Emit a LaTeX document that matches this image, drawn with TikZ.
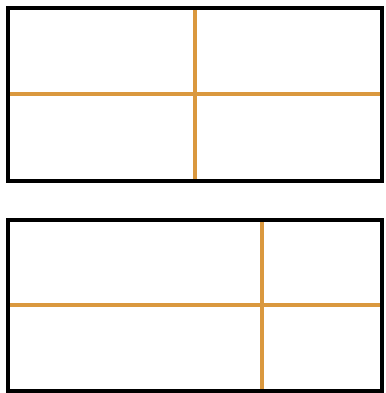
\documentclass[tikz,border=0pt]{standalone}
\definecolor{ochre}{RGB}{218,152,62}
\begin{document}
\begin{tikzpicture}[x=1pt,y=-1pt,
  frame/.style={draw=black,line width=4pt},
  divider/.style={draw=ochre,line width=4pt}]
\useasboundingbox (0,0) rectangle (385,393);
% top panel
\draw[divider] (8,94) -- (382,94);
\draw[divider] (195,8) -- (195,181);
\draw[frame] (8,8) rectangle (382,181);
% bottom panel
\draw[divider] (8,305) -- (382,305);
\draw[divider] (262,220) -- (262,391);
\draw[frame] (8,220) rectangle (382,391);
\end{tikzpicture}
\end{document}
